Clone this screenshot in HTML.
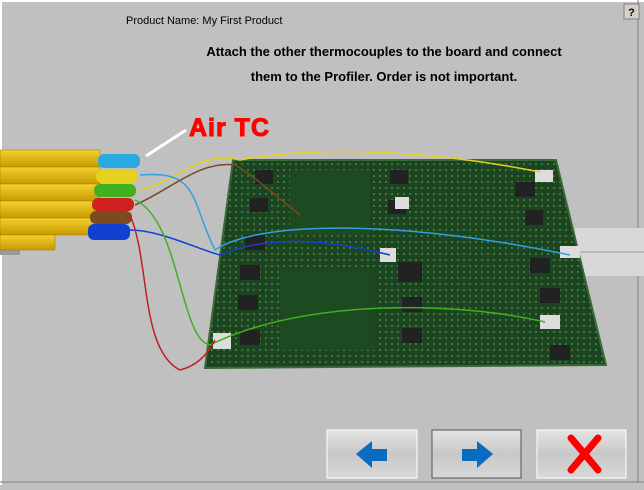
<!DOCTYPE html>
<html><head><style>
body{margin:0;width:644px;height:485px;overflow:hidden;background:#c0c0c0;font-family:"Liberation Sans",sans-serif}
</style></head><body>
<svg width="644" height="485" viewBox="0 0 644 485" xmlns="http://www.w3.org/2000/svg">
<defs>
<linearGradient id="btn" x1="0" y1="0" x2="0" y2="1"><stop offset="0" stop-color="#e4e4e4"/><stop offset="0.5" stop-color="#c8c8c8"/><stop offset="1" stop-color="#d8d8d8"/></linearGradient>
<linearGradient id="yel" x1="0" y1="0" x2="0" y2="1"><stop offset="0" stop-color="#f4d030"/><stop offset="1" stop-color="#c89a00"/></linearGradient>
<pattern id="dots" width="6" height="6" patternUnits="userSpaceOnUse"><rect width="6" height="6" fill="#1c4420"/><rect x="1" y="1" width="2" height="2" fill="#3c7a3c"/></pattern>
</defs>
<rect width="644" height="485" fill="#c0c0c0"/>
<line x1="0" y1="1" x2="644" y2="1" stroke="#fff" stroke-width="2"/>
<line x1="1" y1="0" x2="1" y2="485" stroke="#fff" stroke-width="2"/>
<line x1="638" y1="0" x2="638" y2="482" stroke="#808080"/>
<line x1="0" y1="482" x2="644" y2="482" stroke="#808080"/>
<rect x="624" y="4" width="15" height="15" fill="#d4d0c8" stroke="#808080"/>
<text x="631.5" y="16" font-size="11" font-weight="bold" text-anchor="middle">?</text>
<text x="126" y="24" font-size="11" fill="#000">Product Name:  My First Product</text>
<text x="384" y="56" font-size="13" font-weight="bold" text-anchor="middle">Attach the other thermocouples to the board and connect</text>
<text x="384" y="81" font-size="13" font-weight="bold" text-anchor="middle">them to the Profiler.  Order is not important.</text>
<text x="189" y="136" font-size="25" font-weight="bold" fill="#ff0000" stroke="#ff0000" stroke-width="1" letter-spacing="1">Air TC</text>
<line x1="186" y1="130" x2="146" y2="156" stroke="#fff" stroke-width="3"/>
<!-- ruler -->
<rect x="575" y="228" width="69" height="48" fill="#d8d8d8"/>
<line x1="575" y1="252" x2="644" y2="252" stroke="#999"/>
<!-- board -->
<polygon points="233,160 556,160 606,365 205,368" fill="url(#dots)"/>
<polygon points="233,160 556,160 606,365 205,368" fill="none" stroke="#3a6a3a" stroke-width="2"/>
<g fill="#1e4a22">
<rect x="290" y="170" width="80" height="65"/><rect x="280" y="270" width="95" height="80"/>
</g>
<g fill="#222">
<rect x="255" y="170" width="18" height="14"/><rect x="390" y="170" width="18" height="14"/><rect x="515" y="182" width="20" height="15"/>
<rect x="250" y="198" width="18" height="14"/><rect x="388" y="200" width="18" height="14"/><rect x="525" y="210" width="18" height="15"/>
<rect x="245" y="235" width="20" height="15"/><rect x="398" y="262" width="24" height="20"/><rect x="530" y="258" width="20" height="15"/>
<rect x="240" y="265" width="20" height="15"/><rect x="402" y="297" width="20" height="15"/><rect x="540" y="288" width="20" height="15"/>
<rect x="238" y="295" width="20" height="15"/><rect x="402" y="328" width="20" height="15"/><rect x="550" y="345" width="20" height="15"/>
<rect x="240" y="330" width="20" height="15"/>
</g>
<g fill="#ddd"><rect x="535" y="170" width="18" height="12"/><rect x="380" y="248" width="16" height="14"/><rect x="560" y="246" width="20" height="12"/><rect x="540" y="315" width="20" height="14"/><rect x="213" y="333" width="18" height="16"/><rect x="395" y="197" width="14" height="12"/></g>
<!-- probes -->
<rect x="0" y="175" width="20" height="80" fill="#999"/>
<g fill="url(#yel)" stroke="#a07800" stroke-width="0.5">
<rect x="0" y="150" width="100" height="17"/><rect x="0" y="167" width="100" height="17"/><rect x="0" y="184" width="100" height="17"/>
<rect x="0" y="201" width="100" height="17"/><rect x="0" y="218" width="100" height="17"/><rect x="0" y="235" width="55" height="15"/>
</g>
<g>
<rect x="98" y="154" width="42" height="14" rx="6" fill="#2aa8e0"/>
<rect x="96" y="170" width="42" height="13" rx="6" fill="#e8d020"/>
<rect x="94" y="184" width="42" height="13" rx="6" fill="#40b020"/>
<rect x="92" y="198" width="42" height="13" rx="6" fill="#d02020"/>
<rect x="90" y="211" width="42" height="13" rx="6" fill="#7a4a20"/>
<rect x="88" y="224" width="42" height="16" rx="6" fill="#1040d0"/>
</g>
<!-- wires -->
<g fill="none" stroke-width="1.5">
<path d="M140,190 C180,180 200,150 240,160 C350,140 480,160 540,172" stroke="#e8d020"/>
<path d="M140,175 C200,170 190,200 215,250 C260,220 400,220 570,255" stroke="#30a0e0"/>
<path d="M135,205 C170,190 200,160 235,165 C260,180 280,200 300,215" stroke="#7a4a20"/>
<path d="M130,230 C160,230 200,250 220,255 C280,230 350,245 390,255" stroke="#1040d0"/>
<path d="M135,200 C180,220 180,340 210,345 C300,300 450,300 545,322" stroke="#40b020"/>
<path d="M130,215 C150,260 140,350 180,370 C200,365 210,350 215,340" stroke="#c02020"/>
</g>
<!-- buttons -->
<g>
<rect x="327" y="430" width="90" height="48" fill="url(#btn)" stroke="#fff"/>
<rect x="432" y="430" width="89" height="48" fill="url(#btn)" stroke="#555"/>
<rect x="537" y="430" width="89" height="48" fill="url(#btn)" stroke="#fff"/>
<polygon points="356,454 372,441 372,449 387,449 387,461 372,461 372,468" fill="#0a6cc0"/>
<polygon points="493,454 477,441 477,449 462,449 462,461 477,461 477,468" fill="#0a6cc0"/>
<path d="M571,438 L598,470 M598,438 L571,470" stroke="#ff0000" stroke-width="7" stroke-linecap="round"/>
</g>
</svg>
</body></html>
